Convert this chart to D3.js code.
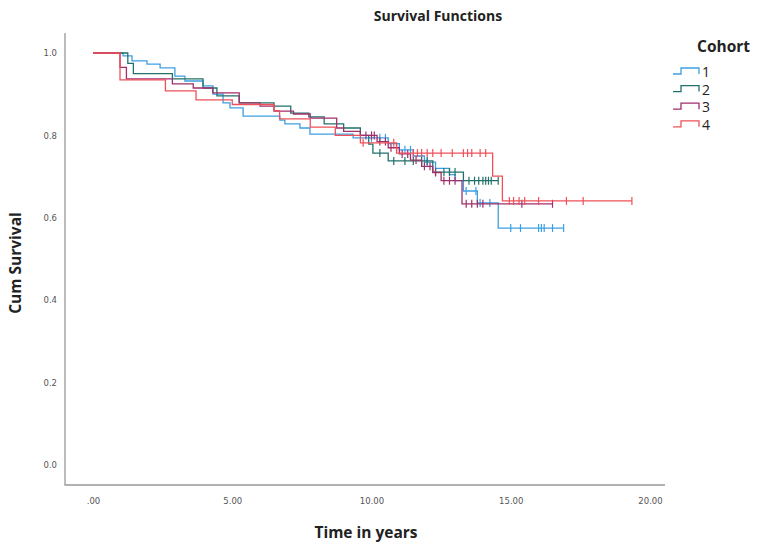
<!DOCTYPE html>
<html>
<head>
<meta charset="utf-8">
<script src="https://cdn.jsdelivr.net/npm/d3@7"></script>
<style>
body { margin: 0; background: #fff; }
svg { display: block; }
</style>
</head>
<body>
<svg width="763" height="545"></svg>
<script>
// step times and survival after each step, per cohort
var cohorts = ["1", "2", "3", "4"];
var colors = ["#3d9fe3", "#22716a", "#a0306a", "#f0505a"];

var times1 = [1.08, 1.40, 1.94, 2.41, 2.94, 3.30, 3.95, 4.31, 4.67, 4.92, 5.39, 6.71, 6.89, 7.43, 7.79, 9.34, 10.6, 11.0, 11.5, 11.9, 12.3, 12.8, 13.0, 13.3, 13.8, 14.55];
var surv1 = [0.993, 0.981, 0.973, 0.964, 0.944, 0.932, 0.920, 0.900, 0.879, 0.867, 0.847, 0.837, 0.828, 0.818, 0.803, 0.794, 0.78, 0.765, 0.75, 0.735, 0.72, 0.705, 0.69, 0.665, 0.636, 0.575];
var censor1 = [10.0, 10.3, 10.5, 11.2, 11.4, 12.0, 13.4, 13.75, 13.9, 14.25, 15.0, 15.35, 16.0, 16.1, 16.2, 16.5, 16.9];

var times2 = [1.25, 1.45, 2.85, 3.95, 4.45, 5.25, 6.5, 7.1, 7.75, 8.3, 9.0, 9.6, 9.9, 10.05, 10.6, 12.2, 13.3];
var surv2 = [0.975, 0.95, 0.937, 0.915, 0.896, 0.879, 0.871, 0.854, 0.845, 0.828, 0.818, 0.80, 0.779, 0.757, 0.738, 0.711, 0.69];
var censor2 = [10.3, 10.8, 11.2, 11.5, 11.8, 12.0, 12.3, 12.6, 12.8, 13.0, 13.5, 13.7, 13.85, 14.0, 14.1, 14.2, 14.3, 14.55];

var times3 = [0.97, 1.2, 2.85, 3.6, 4.3, 5.25, 6.0, 6.5, 7.2, 7.8, 8.75, 9.0, 9.6, 10.2, 10.6, 11.0, 11.4, 11.8, 12.2, 12.5, 13.25];
var surv3 = [0.965, 0.937, 0.925, 0.915, 0.903, 0.879, 0.871, 0.859, 0.852, 0.842, 0.818, 0.81, 0.80, 0.785, 0.77, 0.755, 0.74, 0.725, 0.71, 0.69, 0.634];
var censor3 = [9.8, 10.0, 10.1, 10.3, 10.5, 10.7, 10.9, 11.1, 11.3, 11.6, 11.9, 12.1, 12.3, 12.6, 12.8, 13.0, 13.4, 13.6, 13.8, 14.0, 15.4, 16.5];

var times4 = [0.97, 2.6, 3.7, 5.0, 6.5, 6.7, 7.8, 8.7, 9.6, 10.9, 14.35, 14.7];
var surv4 = [0.935, 0.908, 0.886, 0.875, 0.86, 0.84, 0.82, 0.80, 0.782, 0.757, 0.701, 0.641];
var censor4 = [9.7, 10.8, 11.5, 11.65, 11.8, 12.0, 12.2, 12.5, 12.9, 13.3, 13.45, 13.6, 13.9, 14.1, 14.95, 15.1, 15.3, 15.5, 16.0, 17.0, 17.6, 19.35];

var xTicks = [0, 5, 10, 15, 20];
var yTicks = [0, 0.2, 0.4, 0.6, 0.8, 1.0];

var allTimes = [times1, times2, times3, times4];
var allSurv = [surv1, surv2, surv3, surv4];
var allCensor = [censor1, censor2, censor3, censor4];

var svg = d3.select("svg");

var xScale = d3.scaleLinear().domain([0, 20]).range([93, 650]);
var yScale = d3.scaleLinear().domain([0, 1]).range([465, 53]);

// frame
svg.append("path")
	.attr("d", "M65,33V485H665")
	.attr("fill", "none")
	.attr("stroke", "#999")
	.attr("stroke-width", 1.3);

var xAxis = svg.append("g")
	.attr("transform", "translate(0,485)")
	.call(d3.axisBottom(xScale).tickValues(xTicks).tickSize(0).tickPadding(13)
		.tickFormat(function(d) { return d === 0 ? ".00" : d3.format(".2f")(d); }));
var yAxis = svg.append("g")
	.attr("transform", "translate(65,0)")
	.call(d3.axisLeft(yScale).tickValues(yTicks).tickSize(0).tickPadding(8)
		.tickFormat(d3.format(".1f")));
svg.selectAll(".domain").remove();
svg.selectAll(".tick text")
	.attr("font-family", "DejaVu Sans")
	.attr("font-size", 8.5)
	.attr("fill", "#555");

function survAt(ts, ss, t) {
	var i = d3.bisectRight(ts, t);
	return i === 0 ? 1 : ss[i - 1];
}

var line = d3.line()
	.x(function(d) { return xScale(d[0]); })
	.y(function(d) { return yScale(d[1]); })
	.curve(d3.curveStepAfter);

cohorts.forEach(function(c, k) {
	var ts = allTimes[k], ss = allSurv[k], cs = allCensor[k];
	var end = d3.max(cs);
	var pts = [[0, 1]];
	ts.forEach(function(t, i) { pts.push([t, ss[i]]); });
	pts.push([end, ss[ss.length - 1]]);

	var g = svg.append("g");
	g.append("path")
		.attr("d", line(pts))
		.attr("fill", "none")
		.attr("stroke", colors[k])
		.attr("stroke-width", 1.3);
	g.selectAll("line")
		.data(cs)
		.enter()
		.append("line")
		.attr("x1", function(d) { return xScale(d); })
		.attr("x2", function(d) { return xScale(d); })
		.attr("y1", function(d) { return yScale(survAt(ts, ss, d)) - 4; })
		.attr("y2", function(d) { return yScale(survAt(ts, ss, d)) + 4; })
		.attr("stroke", colors[k])
		.attr("stroke-width", 1.2);
});

// titles
svg.append("text")
	.attr("x", 438).attr("y", 21)
	.attr("text-anchor", "middle")
	.attr("font-family", "Open Sans").attr("font-weight", "bold").attr("font-size", 14)
	.attr("fill", "#222")
	.text("Survival Functions");
svg.append("text")
	.attr("x", 366).attr("y", 538)
	.attr("text-anchor", "middle")
	.attr("font-family", "Open Sans").attr("font-weight", "bold").attr("font-size", 15.5)
	.attr("fill", "#222")
	.text("Time in years");
svg.append("text")
	.attr("transform", "translate(21,263) rotate(-90)")
	.attr("text-anchor", "middle")
	.attr("font-family", "Open Sans").attr("font-weight", "bold").attr("font-size", 15.5)
	.attr("fill", "#222")
	.text("Cum Survival");

// legend
svg.append("text")
	.attr("x", 697).attr("y", 52)
	.attr("font-family", "Open Sans").attr("font-weight", "bold").attr("font-size", 15.5)
	.attr("fill", "#222")
	.text("Cohort");
var legend = svg.selectAll(".leg")
	.data(cohorts)
	.enter()
	.append("g")
	.attr("class", "leg")
	.attr("transform", function(d, i) { return "translate(0," + (72 + i * 17.6) + ")"; });
legend.append("path")
	.attr("d", "M673,2H681V-4H699V2")
	.attr("fill", "none")
	.attr("stroke", function(d, i) { return colors[i]; })
	.attr("stroke-width", 1.3);
legend.append("text")
	.attr("x", 702).attr("y", 5)
	.attr("font-family", "Open Sans").attr("font-size", 14)
	.attr("fill", "#222")
	.text(function(d) { return d; });
</script>
</body>
</html>
